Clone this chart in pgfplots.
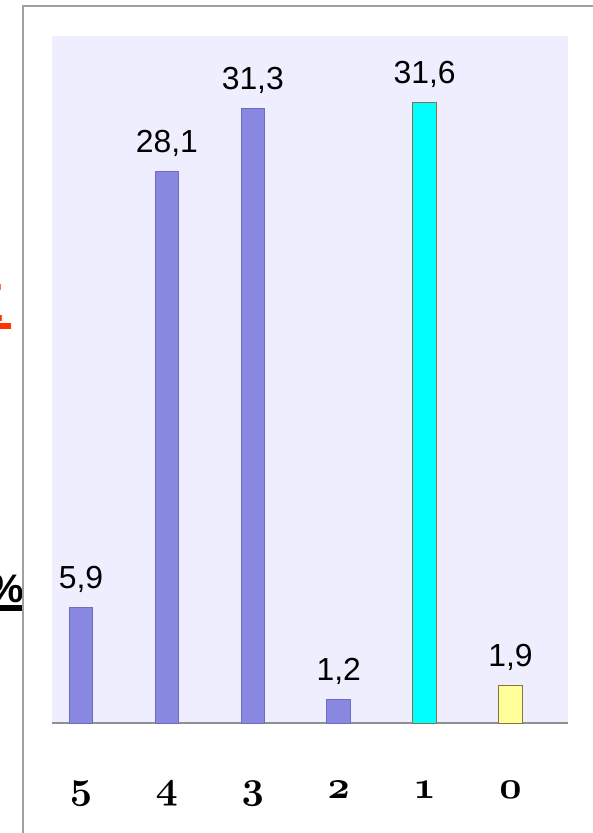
\documentclass[border=0pt]{standalone}
\usepackage{graphicx}
\usepackage{pgfplots}
\pgfplotsset{compat=1.18}
\usepackage{fontspec}
\setmainfont{Liberation Sans}

\definecolor{bg}{HTML}{EEEEFF}
\definecolor{barblue}{HTML}{8888E0}
\definecolor{barblueedge}{HTML}{6E6EC0}
\definecolor{edgebrown}{HTML}{8C7040}
\definecolor{barcyan}{HTML}{00FFFF}
\definecolor{baryellow}{HTML}{FFFF99}
\definecolor{framegray}{HTML}{A0A0A0}
\definecolor{axisgray}{HTML}{909090}
\definecolor{slidered}{HTML}{FF3300}

% bold old-style figures for the category labels
\newcommand{\osf}[1]{\scalebox{3.9}{\usefont{OML}{cmm}{b}{it}#1}}

\begin{document}
\begin{tikzpicture}[x=1bp,y=1bp]
% page = 593 x 833, axis box sits at (0,0)-(516,687)
\useasboundingbox (-52,-110) rectangle (541,723);
\clip (-52,-110) rectangle (541,723);
\fill[white] (-52,-110) rectangle (541,723);
% slide text cut off at the left edge
\node[anchor=base east, inner sep=0pt, text=slidered, font=\fontsize{54}{54}\selectfont\bfseries] at (-47,401) {E};
\fill[slidered] (-72,394) rectangle (-41,400);
\node[anchor=base west, inner sep=0pt, font=\fontsize{40}{40}\selectfont\bfseries] at (-64,120) {\%};
\fill[black] (-72,112) rectangle (-30,118);
\fill[white] (-29,-120) rectangle (548,717);
\draw[framegray, line width=2bp] (-29.2,-120) -- (-29.2,717) -- (548,717);

\begin{axis}[
  scale only axis, width=516bp, height=687bp,
  xmin=-0.3376, xmax=5.669, ymin=0, ymax=35,
  ybar, bar width=23.5bp, bar shift=0pt,
  axis background/.style={fill=bg},
  axis x line*=bottom, axis y line=none,
  axis line style={draw=axisgray, line width=1.3bp},
  xtick={0,1,2,3,4,5},
  xticklabels={\osf{5},\osf{4},\osf{3},\osf{2},\osf{1},\osf{0}},
  major tick length=0pt,
  ytick=\empty,
  xticklabel style={anchor=base, inner sep=0pt, text depth=0pt, yshift=-75bp},
  nodes near coords,
  every node near coord/.append style={anchor=base, inner sep=0pt, text depth=0pt,
    yshift=19bp, font=\fontsize{32}{32}\selectfont, text=black},
  /pgf/number format/use comma,
  /pgf/number format/fixed,
  /pgf/number format/fixed zerofill,
  /pgf/number format/precision=1,
  /pgf/number format/assume math mode=true,
]
\addplot[fill=barblue, draw=barblueedge, line width=1bp]
  coordinates {(0,5.9) (1,28.1) (2,31.3) (3,1.2)};
\addplot[fill=barcyan, draw=edgebrown, line width=1bp]
  coordinates {(4,31.6)};
\addplot[fill=baryellow, draw=edgebrown, line width=1bp]
  coordinates {(5,1.9)};
\end{axis}
\end{tikzpicture}
\end{document}
